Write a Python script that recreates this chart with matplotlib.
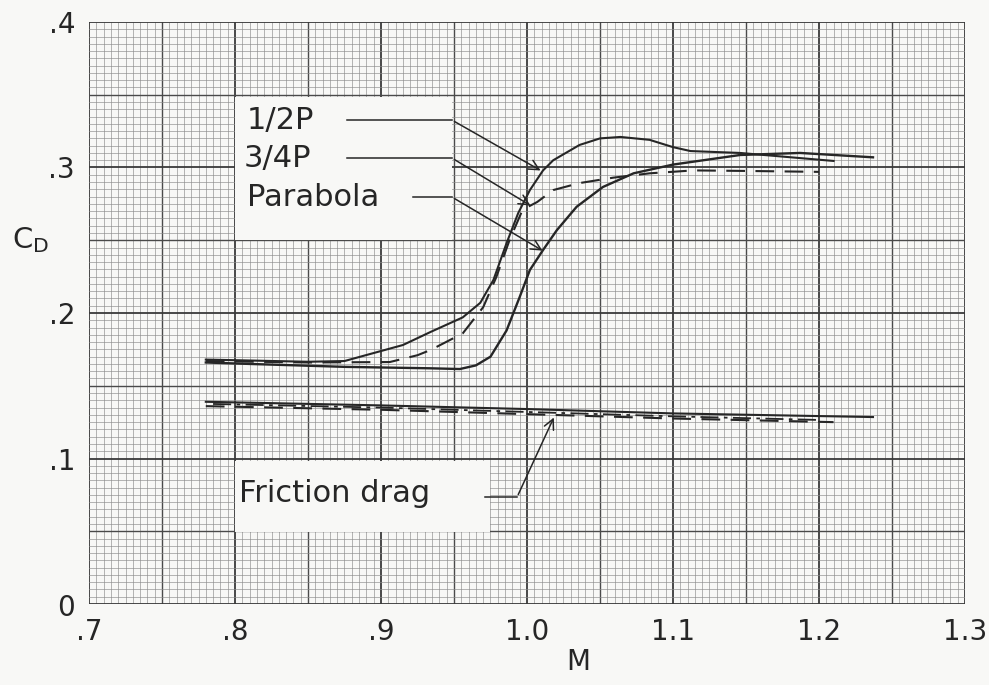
import numpy as np
import matplotlib.pyplot as plt
from matplotlib.patches import Rectangle

# Drag coefficient vs Mach number
half_p_m = [0.78, 0.85, 0.875, 0.895, 0.915, 0.934, 0.956, 0.968, 0.977, 0.986,
            0.994, 1.002, 1.011, 1.018, 1.036, 1.050, 1.064, 1.084, 1.100, 1.112,
            1.146, 1.210]
half_p_cd = [0.168, 0.1665, 0.167, 0.1725, 0.178, 0.187, 0.197, 0.207, 0.2227, 0.248,
             0.2687, 0.2845, 0.298, 0.305, 0.3155, 0.320, 0.321, 0.319, 0.314, 0.3113,
             0.310, 0.3045]

three_q_m = [0.78, 0.85, 0.906, 0.925, 0.934, 0.956, 0.970, 0.979, 0.988, 0.997,
             1.007, 1.018, 1.036, 1.059, 1.084, 1.114, 1.153, 1.200]
three_q_cd = [0.167, 0.166, 0.1663, 0.171, 0.1746, 0.186, 0.204, 0.2247, 0.250, 0.271,
              0.2763, 0.2845, 0.2893, 0.293, 0.296, 0.298, 0.2976, 0.297]

parab_m = [0.78, 0.81, 0.875, 0.934, 0.954, 0.965, 0.975, 0.986, 0.995, 1.002,
           1.011, 1.0205, 1.034, 1.052, 1.073, 1.100, 1.146, 1.187, 1.237]
parab_cd = [0.166, 0.165, 0.163, 0.162, 0.1615, 0.164, 0.170, 0.188, 0.211, 0.2296,
            0.2433, 0.257, 0.273, 0.2866, 0.296, 0.302, 0.3086, 0.310, 0.307]

# friction drag lines
fric_m1 = [0.78, 0.90, 1.00, 1.10, 1.237]
fric_cd1 = [0.139, 0.1365, 0.134, 0.131, 0.1285]
fric_m2 = [0.78, 0.90, 1.00, 1.10, 1.21]
fric_cd2 = [0.136, 0.1335, 0.1305, 0.1275, 0.125]
fric_m3 = [0.785, 0.90, 1.00, 1.10, 1.20]
fric_cd3 = [0.1375, 0.135, 0.132, 0.129, 0.1265]

x_ticks = [0.7, 0.8, 0.9, 1.0, 1.1, 1.2, 1.3]
x_labels = ['.7', '.8', '.9', '1.0', '1.1', '1.2', '1.3']
y_ticks = [0.1, 0.2, 0.3, 0.4]
y_labels = ['.1', '.2', '.3', '.4']

paper = '#f8f8f6'
ink = '#262626'

fig = plt.figure(figsize=(9.89, 6.85), dpi=100, facecolor=paper)
ax = fig.add_axes([0.09, 0.1182, 0.8857, 0.8497])
ax.set_facecolor(paper)
ax.set_xlim(0.7, 1.3)
ax.set_ylim(0, 0.4)


def grid_style(k):
    if k % 20 == 0:
        return 1.3, '#3a3a3a'
    if k % 10 == 0:
        return 1.0, '#4a4a4a'
    return 0.45, '#8c8c8c'


# graph paper
for v in np.arange(0.7, 1.3001, 0.005):
    lw, c = grid_style(round((v - 0.7) / 0.005))
    ax.axvline(v, color=c, lw=lw, zorder=0)
for v in np.arange(0, 0.4001, 0.005):
    lw, c = grid_style(round(v / 0.005))
    ax.axhline(v, color=c, lw=lw, zorder=0)

# white label patches
ax.add_patch(Rectangle((0.800, 0.2502), 0.1486, 0.0983, facecolor=paper,
                       edgecolor='none', zorder=1))
ax.add_patch(Rectangle((0.800, 0.0495), 0.1747, 0.0488, facecolor=paper,
                       edgecolor='none', zorder=1))

ax.plot(half_p_m, half_p_cd, color=ink, lw=1.5, zorder=3)
ax.plot(three_q_m, three_q_cd, color=ink, lw=1.5, ls=(0, (9, 5)), zorder=3)
ax.plot(parab_m, parab_cd, color=ink, lw=1.7, zorder=3)
ax.plot(fric_m1, fric_cd1, color=ink, lw=1.5, zorder=3)
ax.plot(fric_m2, fric_cd2, color=ink, lw=1.5, ls=(0, (9, 5)), zorder=3)
ax.plot(fric_m3, fric_cd3, color=ink, lw=1.3, ls=(0, (10, 3, 2, 3)), zorder=3)

lab = dict(fontsize=22, color=ink, va='center', ha='left', zorder=4)
ax.text(0.808, 0.3326, '1/2P', **lab)
ax.text(0.806, 0.3065, '3/4P', **lab)
ax.text(0.808, 0.2797, 'Parabola', **lab)
ax.text(0.803, 0.0763, 'Friction drag', **lab)

arrow = dict(arrowstyle='->', color=ink, lw=1.1, mutation_scale=18)
leaders = [
    ((0.8767, 0.3326), (0.9486, 0.3326), (1.011, 0.297)),
    ((0.8767, 0.3065), (0.9486, 0.3065), (1.004, 0.2729)),
    ((0.9219, 0.2797), (0.9486, 0.2797), (1.0123, 0.2419)),
    ((0.9712, 0.0735), (0.9932, 0.0735), (1.0192, 0.1299)),
]
for p0, p1, tip in leaders:
    ax.plot([p0[0], p1[0]], [p0[1], p1[1]], color=ink, lw=1.1, zorder=4)
    ax.annotate('', xy=tip, xytext=p1, arrowprops=arrow, zorder=4)

ax.set_xticks(x_ticks)
ax.set_xticklabels(x_labels)
ax.set_yticks(y_ticks)
ax.set_yticklabels(y_labels)
ax.tick_params(length=0, labelsize=20, colors=ink)
ax.tick_params(axis='x', pad=10)
ax.tick_params(axis='y', pad=10)
for s in ax.spines.values():
    s.set_visible(False)

fig.text(66 / 989, 1 - 608 / 685, '0', fontsize=20, color=ink, ha='center', va='center')
fig.text(12 / 989, 1 - 240 / 685, r'C$_{\mathrm{D}}$', fontsize=21, color=ink,
         ha='left', va='center')
fig.text(578 / 989, 1 - 662 / 685, 'M', fontsize=20, color=ink, ha='center', va='center')

fig.savefig('out.png', dpi=100, facecolor=paper)
